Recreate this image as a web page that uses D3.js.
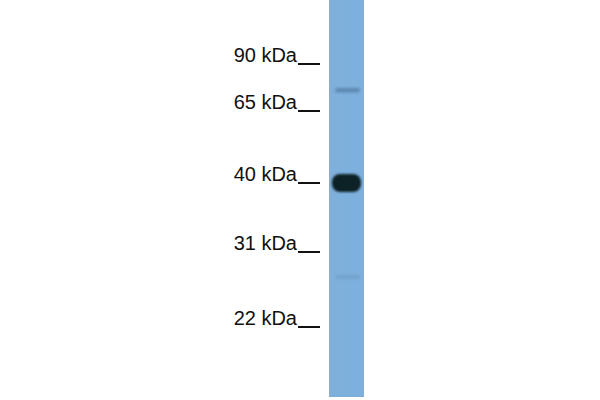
<!DOCTYPE html>
<html>
<head>
<meta charset="utf-8">
<script src="https://cdn.jsdelivr.net/npm/d3@7"></script>
<style>
body{margin:0;background:#fff}
</style>
</head>
<body>
<script>
// marker ladder (kDa) and labels
const markerKda=[90,65,40,31,22]
const markerLabels=['90 kDa','65 kDa','40 kDa','31 kDa','22 kDa']
// detected bands in the single lane
const bandKda=[76,40,28]
const bandStrength=[0.45,1,0.15]

const width=600,height=400

const svg=d3.select('body').append('svg')
	.attr('width',width)
	.attr('height',height)

// gel calibration: marker kDa -> vertical position of the ladder marks
const y=d3.scaleLinear()
	.domain(markerKda)
	.range([64,111,183,252,327])

const lane={x0:329,x1:364,top:0,bottom:397}

const defs=svg.append('defs')
const grad=defs.append('linearGradient').attr('id','lane')
grad.append('stop').attr('offset','0%').attr('stop-color','#8fabc6')
grad.append('stop').attr('offset','6%').attr('stop-color','#7fb0dc')
grad.append('stop').attr('offset','94%').attr('stop-color','#7db0dd')
grad.append('stop').attr('offset','100%').attr('stop-color','#88afd4')

defs.append('filter').attr('id','blur')
	.attr('x','-20%').attr('y','-50%').attr('width','140%').attr('height','200%')
	.append('feGaussianBlur').attr('stdDeviation',1.3)
defs.append('filter').attr('id','blur2')
	.attr('x','-20%').attr('y','-100%').attr('width','140%').attr('height','300%')
	.append('feGaussianBlur').attr('stdDeviation',1.5)

svg.append('rect')
	.attr('x',lane.x0)
	.attr('y',lane.top)
	.attr('width',lane.x1-lane.x0)
	.attr('height',lane.bottom-lane.top)
	.attr('fill','url(#lane)')

// bands
svg.append('g')
	.selectAll('rect')
	.data(bandKda)
	.join('rect')
	.attr('x',(d,i)=>bandStrength[i]>0.9?lane.x0+3:lane.x0+6)
	.attr('width',(d,i)=>bandStrength[i]>0.9?29:25)
	.attr('y',(d,i)=>y(d)-(bandStrength[i]>0.9?9:2))
	.attr('height',(d,i)=>bandStrength[i]>0.9?18:4)
	.attr('rx',(d,i)=>bandStrength[i]>0.9?8:2)
	.attr('fill',(d,i)=>bandStrength[i]>0.9?'#0f2226':'#2f4f6e')
	.attr('opacity',(d,i)=>bandStrength[i])
	.attr('filter',(d,i)=>bandStrength[i]>0.9?'url(#blur)':'url(#blur2)')

// ladder labels
const marks=svg.append('g')
	.selectAll('g')
	.data(markerKda)
	.join('g')
	.attr('transform',d=>`translate(0,${y(d)})`)

marks.append('text')
	.attr('x',297)
	.attr('y',-2)
	.attr('text-anchor','end')
	.attr('font-family','Liberation Sans, Arial, sans-serif')
	.attr('font-size',20)
	.attr('fill','#111')
	.text((d,i)=>markerLabels[i])

marks.append('line')
	.attr('x1',298)
	.attr('x2',320)
	.attr('stroke','#111')
	.attr('stroke-width',2)
</script>
</body>
</html>
